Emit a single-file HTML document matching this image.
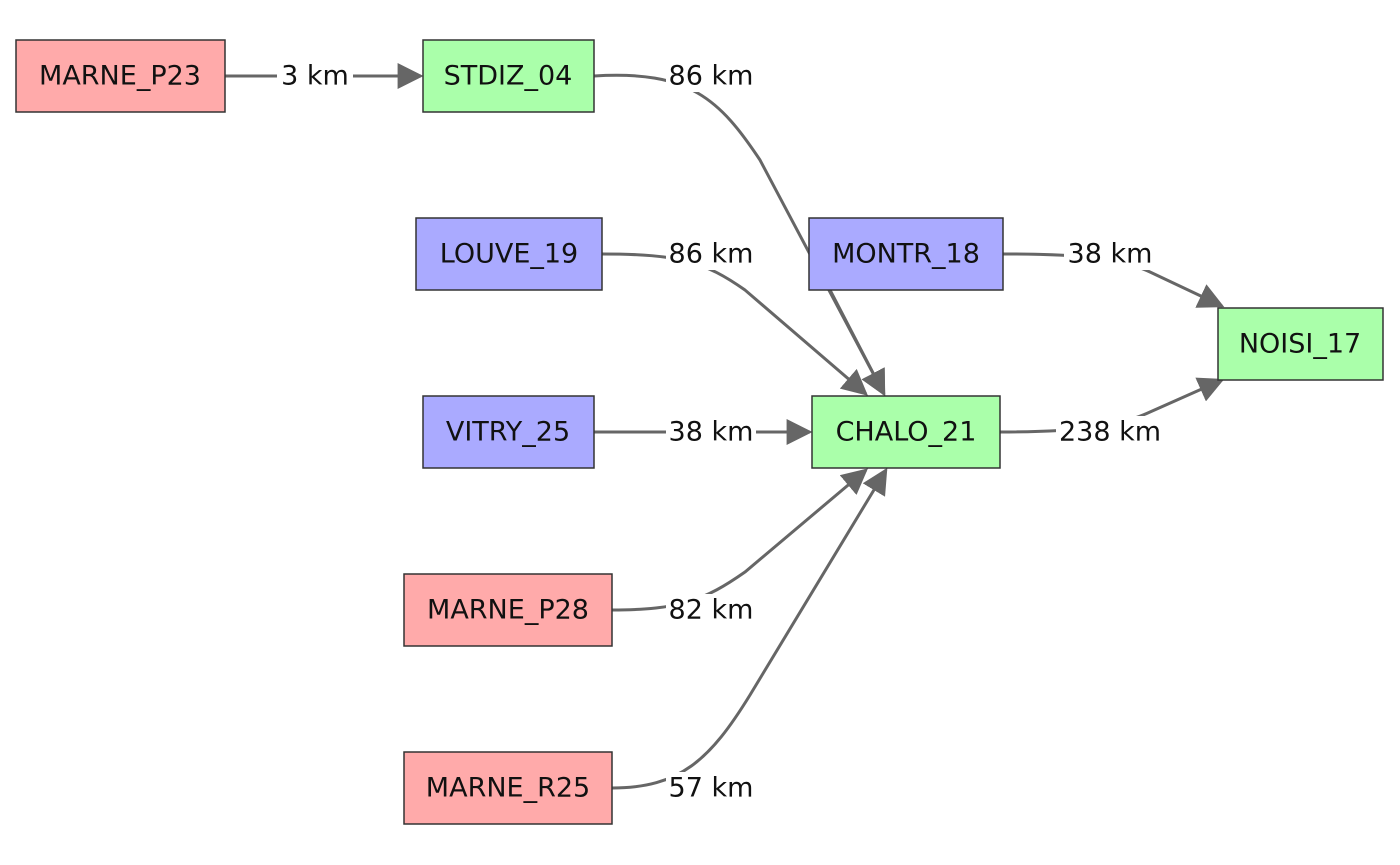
<!DOCTYPE html>
<html><head><meta charset="utf-8"><style>
body{margin:0;background:#fff;width:1400px;height:865px;overflow:hidden}
svg{display:block}
.n{stroke:#333;stroke-width:1.5}
text{font-family:"DejaVu Sans","Liberation Sans",sans-serif;font-size:27px;fill:#111;dominant-baseline:central;text-anchor:middle}
.e{fill:none;stroke:#666;stroke-width:3}
.lb{fill:#fff}
</style></head><body>
<svg width="1400" height="865" viewBox="0 0 1400 865">
<defs><marker id="a" viewBox="0 0 10 10" refX="9" refY="5" markerWidth="9" markerHeight="9" markerUnits="userSpaceOnUse" orient="auto"><path d="M0,0L10,5L0,10z" fill="#666"/></marker>
<marker id="b" viewBox="0 0 10 10" refX="9" refY="5" markerWidth="26" markerHeight="26" markerUnits="userSpaceOnUse" orient="auto"><path d="M0,0L10,5L0,10z" fill="#666"/></marker></defs>
<path class="e" marker-end="url(#b)" d="M225,76 L421,76"/>
<path class="e" marker-end="url(#b)" d="M594,76 C690,70 720,100 760,160 L884,394"/>
<path class="e" marker-end="url(#b)" d="M602,254 C680,254 705,262 745,290 L866,394"/>
<path class="e" marker-end="url(#b)" d="M830,290 L884,394"/>
<path class="e" marker-end="url(#b)" d="M594,432 L810,432"/>
<path class="e" marker-end="url(#b)" d="M612,610 C680,610 705,600 745,572 L866,470"/>
<path class="e" marker-end="url(#b)" d="M612,788 C680,788 710,760 750,695 L886,470"/>
<path class="e" marker-end="url(#b)" d="M1003,254 C1080,254 1120,258 1150,272 L1222,306"/>
<path class="e" marker-end="url(#b)" d="M1000,432 C1080,432 1120,426 1150,412 L1222,380"/>
<g class="lb">
<rect x="277" y="60" width="76" height="32"/><rect x="666" y="60" width="90" height="32"/>
<rect x="666" y="238" width="90" height="32"/><rect x="1064" y="238" width="92" height="32"/>
<rect x="666" y="416" width="90" height="32"/><rect x="1056" y="416" width="108" height="32"/>
<rect x="666" y="594" width="90" height="32"/><rect x="666" y="772" width="90" height="32"/>
</g>
<text x="315" y="76">3 km</text><text x="711" y="76">86 km</text>
<text x="711" y="254">86 km</text><text x="1110" y="254">38 km</text>
<text x="711" y="432">38 km</text><text x="1110" y="432">238 km</text>
<text x="711" y="610">82 km</text><text x="711" y="788">57 km</text>
<rect class="n" x="16" y="40" width="209" height="72" fill="#ffaaaa"/><text x="120" y="76">MARNE_P23</text>
<rect class="n" x="423" y="40" width="171" height="72" fill="#aaffaa"/><text x="508" y="76">STDIZ_04</text>
<rect class="n" x="416" y="218" width="186" height="72" fill="#aaaaff"/><text x="509" y="254">LOUVE_19</text>
<rect class="n" x="809" y="218" width="194" height="72" fill="#aaaaff"/><text x="906" y="254">MONTR_18</text>
<rect class="n" x="1218" y="308" width="165" height="72" fill="#aaffaa"/><text x="1300" y="344">NOISI_17</text>
<rect class="n" x="423" y="396" width="171" height="72" fill="#aaaaff"/><text x="508" y="432">VITRY_25</text>
<rect class="n" x="812" y="396" width="188" height="72" fill="#aaffaa"/><text x="906" y="432">CHALO_21</text>
<rect class="n" x="404" y="574" width="208" height="72" fill="#ffaaaa"/><text x="508" y="610">MARNE_P28</text>
<rect class="n" x="404" y="752" width="208" height="72" fill="#ffaaaa"/><text x="508" y="788">MARNE_R25</text>
</svg>
</body></html>
